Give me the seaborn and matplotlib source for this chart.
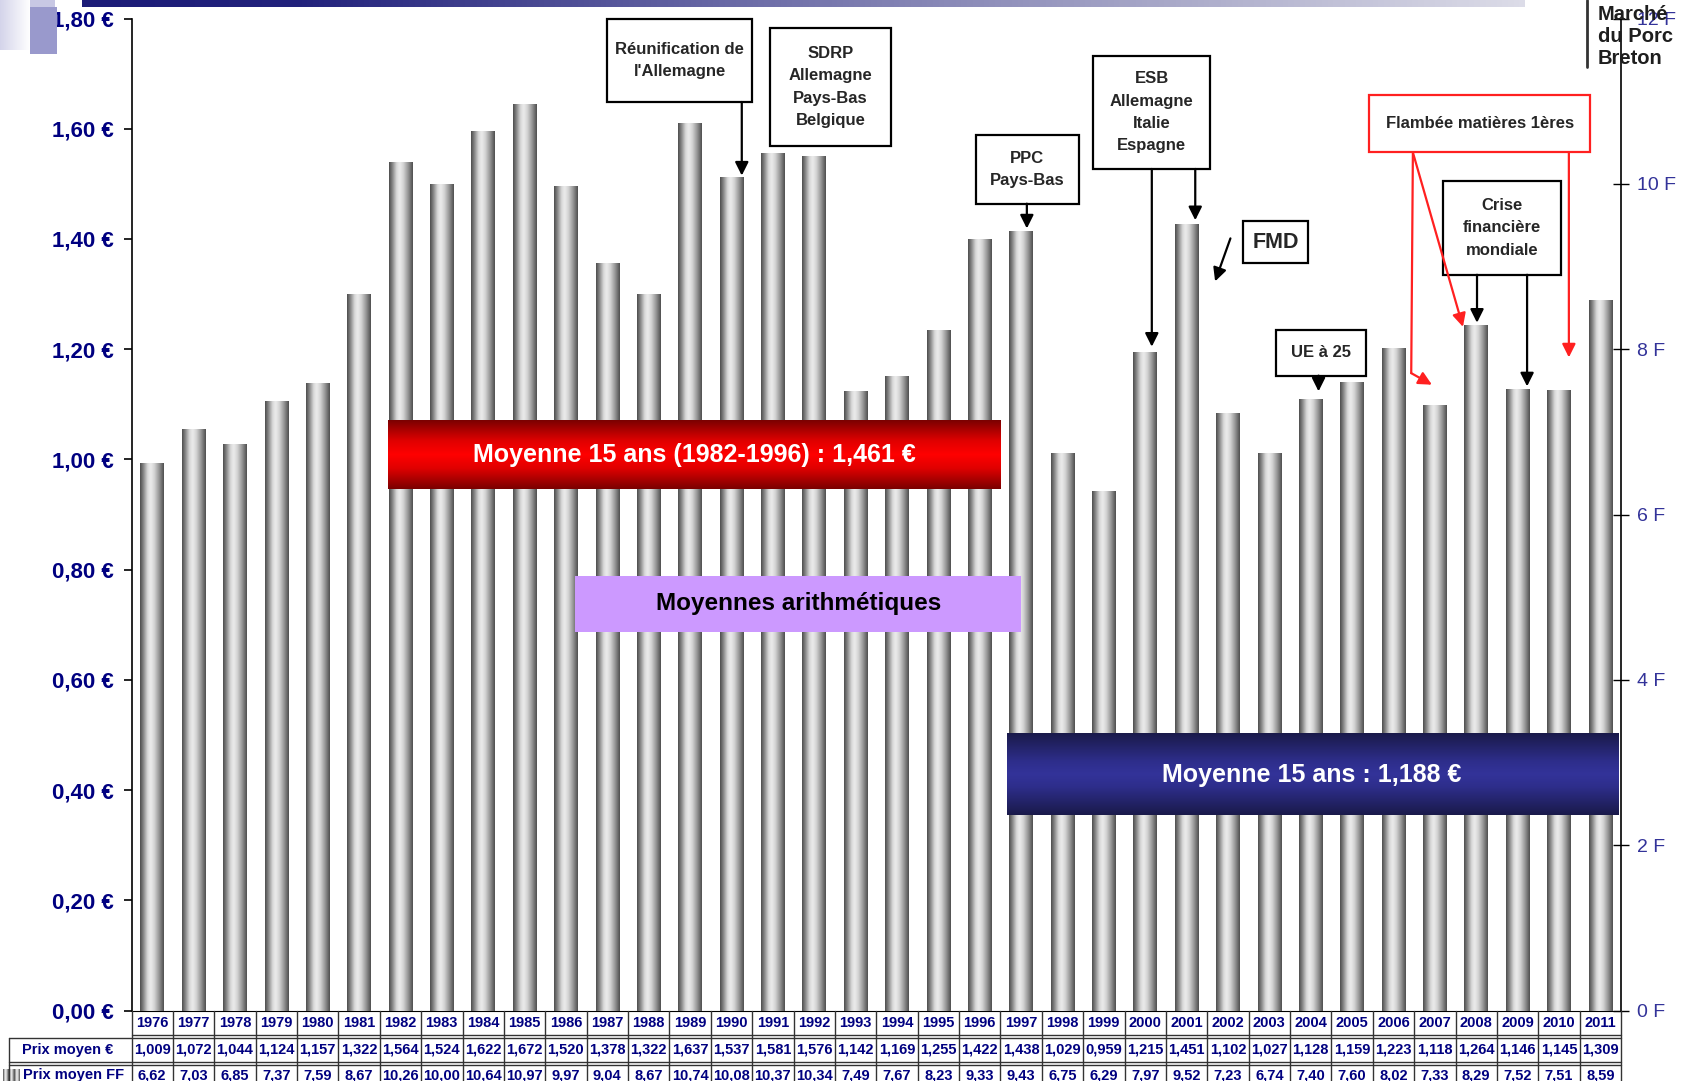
import numpy as np
import pandas as pd
import matplotlib
matplotlib.use("Agg")
import matplotlib.pyplot as plt
import matplotlib.transforms as mtransforms
import seaborn as sns
from matplotlib import font_manager
from matplotlib.colors import LinearSegmentedColormap
from matplotlib.lines import Line2D
from matplotlib.patches import Rectangle

# --- Données ---
annees = list(range(1976, 2012))
prix_euro = [1.009, 1.072, 1.044, 1.124, 1.157, 1.322, 1.564, 1.524, 1.622, 1.672, 1.520,
             1.378, 1.322, 1.637, 1.537, 1.581, 1.576, 1.142, 1.169, 1.255, 1.422, 1.438,
             1.029, 0.959, 1.215, 1.451, 1.102, 1.027, 1.128, 1.159, 1.223, 1.118, 1.264,
             1.146, 1.145, 1.309]
prix_ff = [6.62, 7.03, 6.85, 7.37, 7.59, 8.67, 10.26, 10.00, 10.64, 10.97, 9.97,
           9.04, 8.67, 10.74, 10.08, 10.37, 10.34, 7.49, 7.67, 8.23, 9.33, 9.43,
           6.75, 6.29, 7.97, 9.52, 7.23, 6.74, 7.40, 7.60, 8.02, 7.33, 8.29,
           7.52, 7.51, 8.59]
ticks_euro = [0.0, 0.2, 0.4, 0.6, 0.8, 1.0, 1.2, 1.4, 1.6, 1.8]
ticks_ff = [0, 2, 4, 6, 8, 10, 12]

df = pd.DataFrame({"annee": annees, "euro": prix_euro, "ff": prix_ff})

# --- Style ---
sns.set_style("white")
noms = {f.name for f in font_manager.fontManager.ttflist}
plt.rcParams["font.family"] = ["Liberation Sans", "DejaVu Sans"]
if "Liberation Sans Narrow" in noms:
    fam_narrow, fs_band = ["Liberation Sans Narrow", "Liberation Sans"], 22
else:
    fam_narrow, fs_band = ["Liberation Sans", "DejaVu Sans"], 18

NAVY = "#000080"
W, H = 1688, 1081

def fx(px):
    return px / W

def fy(py):
    return 1 - py / H

fig = plt.figure(figsize=(W / 100, H / 100), dpi=100)
ax = fig.add_axes([fx(131.5), fy(1010.5), fx(1621 - 131.5), (1010.5 - 18.5) / H])
ax2 = ax.twinx()

# --- Barres (axe FF) ---
sns.barplot(data=df, x="annee", y="ff", ax=ax2, width=0.565, color="#999999",
            saturation=1, zorder=2)

cyl = LinearSegmentedColormap.from_list(
    "cyl", [(0, "#4a4a4a"), (0.15, "#8a8a8a"), (0.32, "#d9d9d9"), (0.45, "#ececec"),
            (0.6, "#d4d4d4"), (0.8, "#969696"), (1, "#4d4d4d")])
grad_h = np.linspace(0, 1, 256).reshape(1, -1)
for p in ax2.patches:
    x0, y0, w, h = p.get_x(), p.get_y(), p.get_width(), p.get_height()
    im = ax2.imshow(grad_h, cmap=cyl, extent=[x0, x0 + w, y0, y0 + h],
                    aspect="auto", zorder=2, interpolation="bicubic")
    im.set_clip_path(p)
    p.set_edgecolor("none")

# --- Bandeaux des moyennes ---
grad_v = np.linspace(0, 1, 256).reshape(-1, 1)
rouge = LinearSegmentedColormap.from_list(
    "rouge", [(0, "#7a0000"), (0.3, "#e00000"), (0.5, "#ff0000"), (0.7, "#e00000"), (1, "#7a0000")])
bleu = LinearSegmentedColormap.from_list(
    "bleu", [(0, "#1a1a4a"), (0.35, "#2e2e8c"), (0.5, "#333399"), (0.65, "#2e2e8c"), (1, "#1a1a4a")])

ax2.imshow(grad_v, cmap=rouge, extent=[5.7, 20.5, 6.31, 7.14], aspect="auto", zorder=5)
ax2.text((5.7 + 20.5) / 2, (6.31 + 7.14) / 2, "Moyenne 15 ans (1982-1996) : 1,461 €",
         ha="center", va="center", color="white", fontsize=fs_band, weight="bold",
         family=fam_narrow, zorder=6)

ax2.imshow(grad_v, cmap=bleu, extent=[20.65, 35.42, 2.36, 3.34], aspect="auto", zorder=5)
ax2.text((20.65 + 35.42) / 2, (2.36 + 3.34) / 2, "Moyenne 15 ans : 1,188 €",
         ha="center", va="center", color="white", fontsize=fs_band, weight="bold",
         family=fam_narrow, zorder=6)

ax2.add_patch(Rectangle((10.23, 4.58), 21.0 - 10.23, 5.26 - 4.58, facecolor="#cc99ff",
                        edgecolor="none", zorder=5))
ax2.text((10.23 + 21.0) / 2, (4.58 + 5.26) / 2, "Moyennes arithmétiques",
         ha="center", va="center", color="black", fontsize=17.5, weight="bold", zorder=6)

# --- Encadrés d'événements ---
boites = [
    ("Réunification de\nl'Allemagne", 11.0, 14.5, 10.99, 11.99, "black", 12),
    ("SDRP\nAllemagne\nPays-Bas\nBelgique", 14.94, 17.85, 10.46, 11.88, "black", 12),
    ("PPC\nPays-Bas", 19.91, 22.39, 9.76, 10.59, "black", 12),
    ("ESB\nAllemagne\nItalie\nEspagne", 22.75, 25.57, 10.18, 11.55, "black", 12),
    ("FMD", 26.36, 27.94, 9.04, 9.55, "black", 15.5),
    ("UE à 25", 27.15, 29.34, 7.68, 8.23, "black", 12),
    ("Crise\nfinancière\nmondiale", 31.19, 34.05, 8.90, 10.04, "black", 12),
    ("Flambée matières 1ères", 29.41, 34.76, 10.38, 11.08, "#ff2020", 12),
]
for texte, xa, xb, ya, yb, bord, fs in boites:
    ax2.add_patch(Rectangle((xa, ya), xb - xa, yb - ya, facecolor="white", edgecolor=bord,
                            lw=1.6, zorder=7, clip_on=False))
    ax2.text((xa + xb) / 2, (ya + yb) / 2, texte, ha="center", va="center", fontsize=fs,
             weight="bold", linespacing=1.62, zorder=8)

fleches_noires = [
    ((14.25, 10.99), (14.25, 10.10)),
    ((21.14, 9.76), (21.14, 9.46)),
    ((24.16, 10.18), (24.16, 8.03)),
    ((25.21, 10.18), (25.21, 9.56)),
    ((26.06, 9.34), (25.69, 8.82)),
    ((28.19, 7.68), (28.19, 7.49)),
    ((32.02, 8.90), (32.02, 8.32)),
    ((33.23, 8.90), (33.23, 7.55)),
]
for debut, fin in fleches_noires:
    ax2.annotate("", xy=fin, xytext=debut, zorder=8,
                 arrowprops=dict(arrowstyle="-|>", color="black", lw=1.6,
                                 mutation_scale=20, shrinkA=0, shrinkB=0))

rouge_f = "#ff2020"
ax2.add_line(Line2D([30.47, 30.43], [10.38, 7.71], color=rouge_f, lw=1.6, zorder=8))
fleches_rouges = [
    ((30.43, 7.71), (30.93, 7.57)),
    ((30.47, 10.38), (31.68, 8.27)),
    ((34.24, 10.38), (34.24, 7.90)),
]
for debut, fin in fleches_rouges:
    ax2.annotate("", xy=fin, xytext=debut, zorder=8,
                 arrowprops=dict(arrowstyle="-|>", color=rouge_f, lw=1.6,
                                 mutation_scale=20, shrinkA=0, shrinkB=0))

# --- Axes ---
ax2.set_xlim(-0.5, 35.5)
ax2.set_ylim(0, 12)
ax.set_ylim(0, 1.8)
ax2.set_xticks([])
ax2.set_xlabel("")
ax2.set_ylabel("")
ax.set_xticks([])

ax.set_yticks(ticks_euro)
ax.set_yticklabels([f"{v:.2f}".replace(".", ",") + " €" for v in ticks_euro])
ax.tick_params(axis="y", direction="out", length=6, width=1.2, color="black", pad=7,
               labelsize=16, labelcolor=NAVY, left=True)
for lab in ax.get_yticklabels():
    lab.set_fontweight("bold")

ax2.set_yticks(ticks_ff)
ax2.set_yticklabels([f"{v} F" for v in ticks_ff])
ax2.tick_params(axis="y", direction="inout", length=11, width=1.0, color="black", pad=6,
                labelsize=14, labelcolor="#333399", right=True)

for a in (ax, ax2):
    for s in a.spines.values():
        s.set_visible(False)
ax.spines["left"].set_visible(True)
ax.spines["left"].set_color("black")
ax.spines["left"].set_linewidth(1.2)
ax.spines["bottom"].set_visible(True)
ax.spines["bottom"].set_color("black")
ax2.spines["right"].set_visible(True)
ax2.spines["right"].set_color("black")
ax2.spines["right"].set_linewidth(1.2)

# --- Tableau des valeurs ---
trans = mtransforms.blended_transform_factory(ax2.transData, fig.transFigure)
for i, (an, eu, ff) in enumerate(zip(annees, prix_euro, prix_ff)):
    ax2.text(i, fy(1023), str(an), transform=trans, ha="center", va="center",
             fontsize=10.5, weight="bold", color=NAVY, clip_on=False)
    ax2.text(i, fy(1050), f"{eu:.3f}".replace(".", ","), transform=trans,
             ha="center", va="center", fontsize=10.5, weight="bold", color=NAVY, clip_on=False)
    ax2.text(i, fy(1075), f"{ff:.2f}".replace(".", ","), transform=trans,
             ha="center", va="center", fontsize=10.5, weight="bold", color=NAVY, clip_on=False)

for b in np.arange(-0.5, 36, 1):
    fig.add_artist(Line2D([b, b], [fy(1010.5), 0], transform=trans, color="#333333", lw=1))
for py in (1035, 1038, 1062, 1065):
    fig.add_artist(Line2D([-0.5, 35.5], [fy(py), fy(py)], transform=trans, color="#333333", lw=1))
for py in (1038, 1062, 1065):
    fig.add_artist(Line2D([fx(8.7), fx(131.5)], [fy(py), fy(py)], color="#333333", lw=1))
fig.add_artist(Line2D([fx(8.7), fx(8.7)], [fy(1038), 0], color="#333333", lw=1))

fig.text(fx(68), fy(1050), "Prix moyen €", ha="center", va="center", fontsize=10.5,
         weight="bold", color=NAVY)
fig.text(fx(74), fy(1075), "Prix moyen FF", ha="center", va="center", fontsize=10.5,
         weight="bold", color=NAVY)
ic = fig.add_axes([fx(3), fy(1081), fx(17), 12 / H])
ic.imshow(np.tile(grad_h, (1, 3)), cmap=cyl, aspect="auto")
ic.axis("off")

# --- Décor du modèle ---
bandeau = LinearSegmentedColormap.from_list(
    "bandeau", [(0, "#1c1c78"), (0.15, "#22227c"), (0.45, "#6a6aa6"), (0.75, "#a8a8c8"), (1, "#dcdce8")])
top = fig.add_axes([fx(82), fy(7), fx(1525 - 82), 7 / H])
top.imshow(grad_h, cmap=bandeau, aspect="auto")
top.axis("off")
clair = LinearSegmentedColormap.from_list("clair", ["#d4d4ea", "#ffffff"])
coin = fig.add_axes([0, fy(50), fx(30), 50 / H])
coin.imshow(grad_h, cmap=clair, aspect="auto")
coin.axis("off")
fig.add_artist(Rectangle((fx(30), fy(7)), fx(25), 7 / H, transform=fig.transFigure,
                         facecolor="#c8c8e4", edgecolor="none"))
fig.add_artist(Rectangle((fx(30), fy(54)), fx(27), 47 / H, transform=fig.transFigure,
                         facecolor="#9999cc", edgecolor="none"))

# --- Logo ---
fig.add_artist(Line2D([fx(1586.7)] * 2, [1, fy(67)], color="#333333", lw=2))
fig.text(fx(1598), fy(5), "Marché\ndu Porc\nBreton", ha="left", va="top", fontsize=14.5,
         weight="bold", color="#1e1e1e", linespacing=1.2)

fig.savefig("out.png", dpi=100)
